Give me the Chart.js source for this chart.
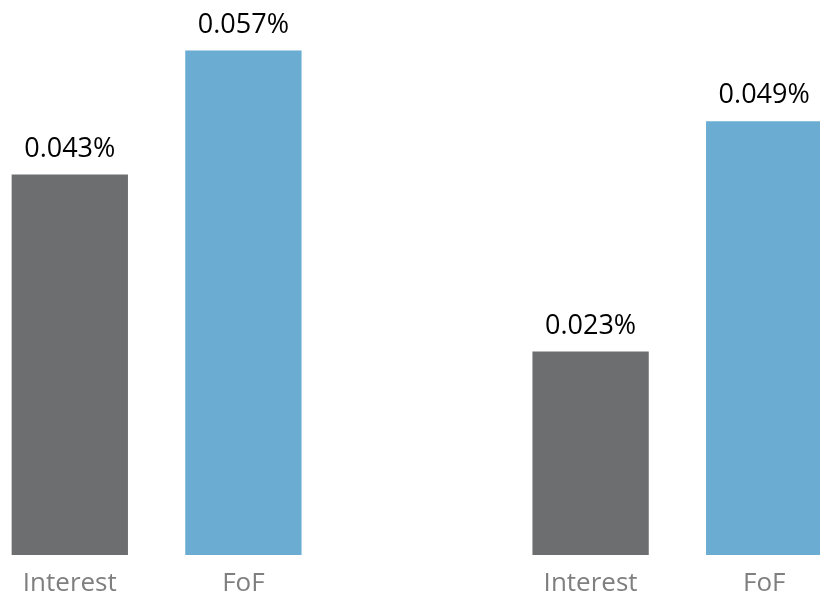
<!DOCTYPE html>
<html>
<head>
<meta charset="utf-8">
<script src="https://cdn.jsdelivr.net/npm/chart.js@4"></script>
<style>
  html, body { margin: 0; padding: 0; background: #fff; overflow: hidden; }
  #wrap { position: absolute; left: -17px; top: 0; width: 868px; height: 597px; }
</style>
</head>
<body>
<div id="wrap"><canvas id="myChart"></canvas></div>
<script>
// Two pairs of bars, empty slot in the middle keeps the groups apart.
const categories = ['Interest', 'FoF', '', 'Interest', 'FoF'];
const rates = [0.043, 0.057, null, 0.023, 0.049];
const valueLabels = ['0.043%', '0.057%', '', '0.023%', '0.049%'];
const barColors = ['#6d6e70', '#6bacd3', '#6d6e70', '#6d6e70', '#6bacd3'];

// Print each value above its bar.
const valueLabelPlugin = {
  id: 'valueLabels',
  afterDatasetsDraw(chart) {
    const c = chart.ctx;
    const meta = chart.getDatasetMeta(0);
    c.save();
    c.font = '27px "Open Sans"';
    c.fillStyle = '#000';
    c.textAlign = 'center';
    c.textBaseline = 'bottom';
    meta.data.forEach((bar, i) => {
      if (rates[i] == null) return;
      c.fillText(valueLabels[i], bar.x, bar.y - 12);
    });
    c.restore();
  }
};

const ctx = document.getElementById('myChart');

new Chart(ctx, {
  type: 'bar',
  data: {
    labels: categories,
    datasets: [{
      data: rates,
      backgroundColor: barColors,
      barPercentage: 0.67,
      categoryPercentage: 1
    }]
  },
  options: {
    responsive: true,
    maintainAspectRatio: false,
    animation: false,
    layout: { padding: 0 },
    plugins: {
      legend: { display: false },
      tooltip: { enabled: false }
    },
    scales: {
      x: {
        grid: { display: false },
        border: { display: false },
        ticks: {
          color: '#7f7f7f',
          font: { family: 'Open Sans', size: 26 },
          padding: 5,
          maxRotation: 0,
          autoSkip: false
        },
        afterFit(scale) { scale.height = 42; }
      },
      y: {
        display: false,
        beginAtZero: true,
        min: 0,
        max: 0.0627
      }
    }
  },
  plugins: [valueLabelPlugin]
});
</script>
</body>
</html>
